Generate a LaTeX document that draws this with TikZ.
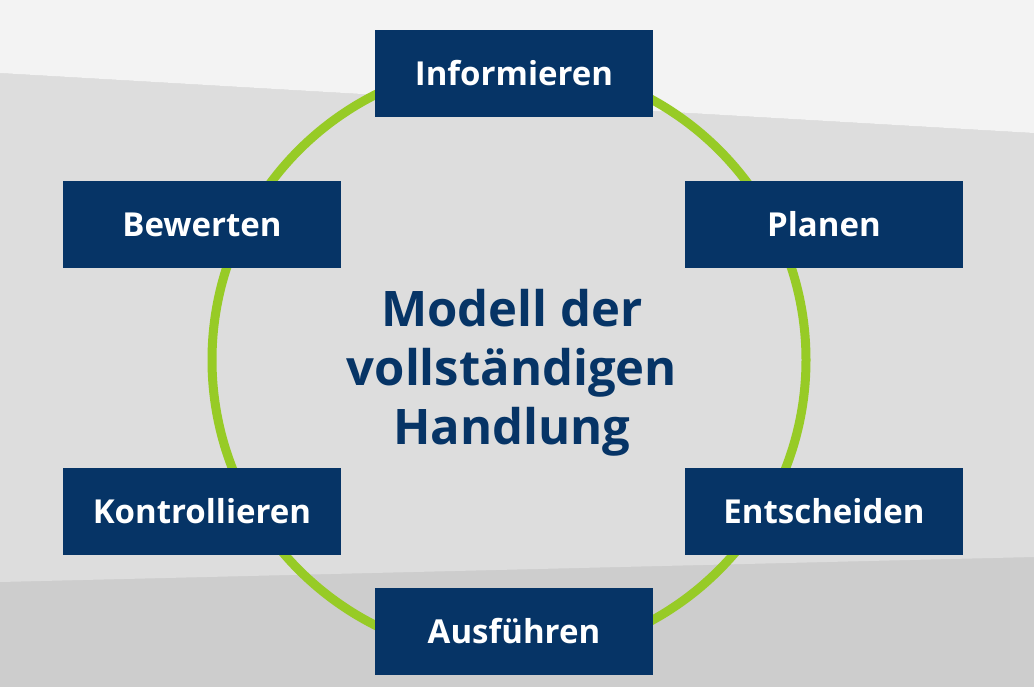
\documentclass[tikz,border=0pt]{standalone}
\usepackage{fontspec}
\setmainfont{Open Sans}
\definecolor{bgtop}{HTML}{F3F3F3}
\definecolor{bgmid}{HTML}{DDDDDD}
\definecolor{bgbot}{HTML}{CDCDCD}
\definecolor{boxblue}{HTML}{063466}
\definecolor{ringgreen}{HTML}{97CB26}
\tikzset{
  stepbox/.style={fill=boxblue, draw=none, minimum width=278pt, minimum height=87pt, inner sep=0pt,
    text=white, font=\fontsize{33}{38}\selectfont\bfseries},
}
\begin{document}
\begin{tikzpicture}[x=1pt,y=-1pt]
\useasboundingbox (0,0) rectangle (1034,687);
\fill[bgbot] (0,0) rectangle (1034,687);
\fill[bgmid] (0,73) -- (1034,133) -- (1034,557) -- (0,582) -- cycle;
\fill[bgtop] (0,0) -- (1034,0) -- (1034,133) -- (0,73) -- cycle;
\coordinate (c) at (509,360);
\draw[ringgreen, line width=9pt] (c) circle[radius=297];
\node[stepbox] (inf) at (514,73.5) {Informieren};
\node[stepbox] (pla) at (824,224.5) {Planen};
\node[stepbox] (ent) at (824,511.5) {Entscheiden};
\node[stepbox] (aus) at (514,631.5) {Ausführen};
\node[stepbox] (kon) at (202,511.5) {Kontrollieren};
\node[stepbox] (bew) at (202,224.5) {Bewerten};
\node[text=boxblue, align=center, font=\fontsize{49}{59}\selectfont\bfseries] (title) at (512,373) {Modell der\\vollständigen\\Handlung};
\end{tikzpicture}
\end{document}
